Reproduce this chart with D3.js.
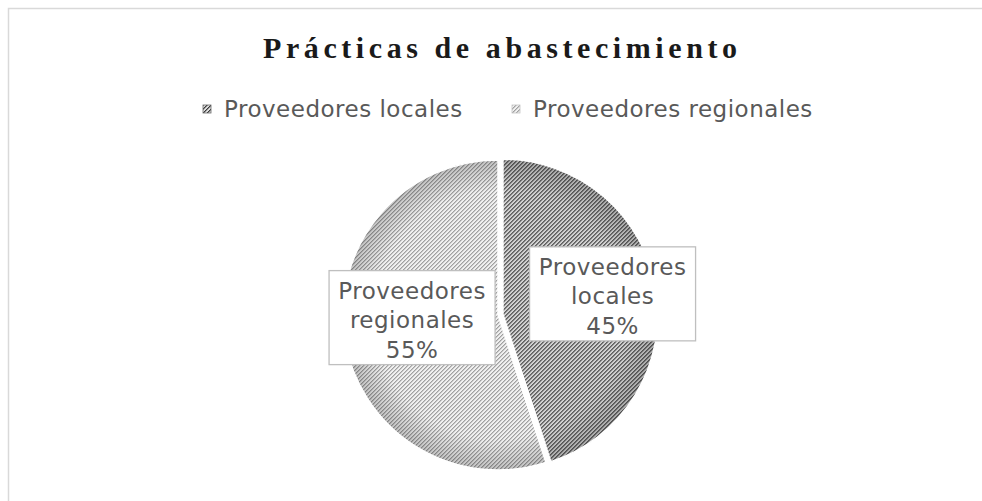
<!DOCTYPE html>
<html>
<head>
<meta charset="utf-8">
<script src="https://cdn.jsdelivr.net/npm/d3@7"></script>
<style>
  body { margin: 0; background: #fff; }
</style>
</head>
<body>
<div id="chart-area"></div>
<script>
let categories = ["Proveedores locales", "Proveedores regionales"]
let values = [45, 55]
let pctLabels = ["45%", "55%"]
let labelLines = [["Proveedores", "locales"], ["Proveedores", "regionales"]]

let width = 982
let height = 501
let cx = 498, cy = 315, radius = 155

let svg = d3.select("#chart-area")
  .append("svg")
    .attr("width", width)
    .attr("height", height)

let defs = svg.append("defs")

// striped fills (dark upward diagonal), drawn pixel by pixel
function stripes(id, bg, fg, mid) {
  let p = defs.append("pattern")
    .attr("id", id)
    .attr("patternUnits", "userSpaceOnUse")
    .attr("width", 4).attr("height", 4)
  p.append("rect").attr("width", 4).attr("height", 4).attr("fill", bg)
  for (let k = 0; k < 4; k++) {
    p.append("rect").attr("x", 3 - k).attr("y", k).attr("width", 1).attr("height", 1).attr("fill", fg)
    p.append("rect").attr("x", (4 - k) % 4).attr("y", k).attr("width", 1).attr("height", 1).attr("fill", mid)
  }
}
stripes("pat0", "#dcdcdc", "#3a3a3a", "#8a8a8a")
stripes("pat1", "#f0f0f0", "#a0a0a0", "#c8c8c8")

let grad = defs.append("radialGradient")
  .attr("id", "edge")
  .attr("gradientUnits", "userSpaceOnUse")
  .attr("cx", 0).attr("cy", 0).attr("r", radius)
grad.append("stop").attr("offset", 0.8).attr("stop-color", "#000").attr("stop-opacity", 0)
grad.append("stop").attr("offset", 1).attr("stop-color", "#000").attr("stop-opacity", 0.2)

// chart frame
svg.append("rect")
  .attr("x", 8.5).attr("y", 8.5)
  .attr("width", width + 20).attr("height", height + 20)
  .attr("fill", "#fff")
  .attr("stroke", "#d9d9d9")
  .attr("stroke-width", 1.5)

// title
svg.append("text")
  .attr("x", 500)
  .attr("y", 58)
  .attr("text-anchor", "middle")
  .attr("font-family", "'Liberation Serif', 'Times New Roman', serif")
  .attr("font-weight", "bold")
  .attr("font-size", "30px")
  .attr("textLength", 474)
  .attr("lengthAdjust", "spacing")
  .style("fill", "#1a1a1a")
  .text("Prácticas de abastecimiento")

// legend
let legendX = [203, 512]
let legend = svg.selectAll(".legend").data(categories).enter()
  .append("g")
    .attr("class", "legend")
    .attr("transform", (d, i) => "translate(" + legendX[i] + ", 105)")
legend.append("rect")
  .attr("width", 8).attr("height", 8)
  .attr("fill", (d, i) => "url(#pat" + i + ")")
  .attr("stroke", (d, i) => i ? "#c4c4c4" : "#6a6a6a")
  .attr("stroke-width", 0.8)
legend.append("text")
  .attr("x", 21)
  .attr("y", 12)
  .attr("font-family", "'DejaVu Sans', Verdana, sans-serif")
  .attr("font-size", "23px")
  .attr("letter-spacing", "0.5px")
  .style("fill", "#595959")
  .text(d => d)

// pie
let pie = d3.pie().sort(null).value(d => d)
let arcs = pie(values)
let arc = d3.arc().innerRadius(0).outerRadius(radius)
let explode = [5, 0]
let labelRadius = [111, 87]
let labelDy = [-3, -11]

let slices = svg.selectAll(".slice").data(arcs).enter()
  .append("g")
    .attr("class", "slice")
    .attr("transform", (d, i) => {
      let a = (d.startAngle + d.endAngle) / 2
      return "translate(" + (cx + Math.sin(a) * explode[i]) + ", " + (cy - Math.cos(a) * explode[i]) + ")"
    })
slices.append("path")
  .attr("d", arc)
  .attr("fill", (d, i) => "url(#pat" + i + ")")
slices.append("path")
  .attr("d", arc)
  .attr("fill", "url(#edge)")
slices.append("path")
  .attr("d", arc)
  .attr("fill", "none")
  .attr("stroke", "#fff")
  .attr("stroke-width", 1.5)

// data labels
slices.each(function(d, i) {
  let g = d3.select(this)
  let a = (d.startAngle + d.endAngle) / 2
  let lx = Math.sin(a) * labelRadius[i]
  let ly = -Math.cos(a) * labelRadius[i] + labelDy[i]
  let lines = labelLines[i].concat([pctLabels[i]])
  let lab = g.append("g").attr("transform", "translate(" + lx + ", " + ly + ")")
  lab.append("rect")
    .attr("x", -83).attr("y", -47).attr("width", 166).attr("height", 94)
    .attr("fill", "#fff")
    .attr("stroke", "#bfbfbf")
    .attr("stroke-width", 1.3)
  let t = lab.append("text")
    .attr("text-anchor", "middle")
    .attr("font-family", "'DejaVu Sans', Verdana, sans-serif")
    .attr("font-size", "23px")
    .attr("letter-spacing", "0.5px")
    .style("fill", "#595959")
  lines.forEach((s, k) => {
    t.append("tspan").attr("x", 0).attr("y", -19 + k * 29.5).text(s)
  })
})
</script>
</body>
</html>
